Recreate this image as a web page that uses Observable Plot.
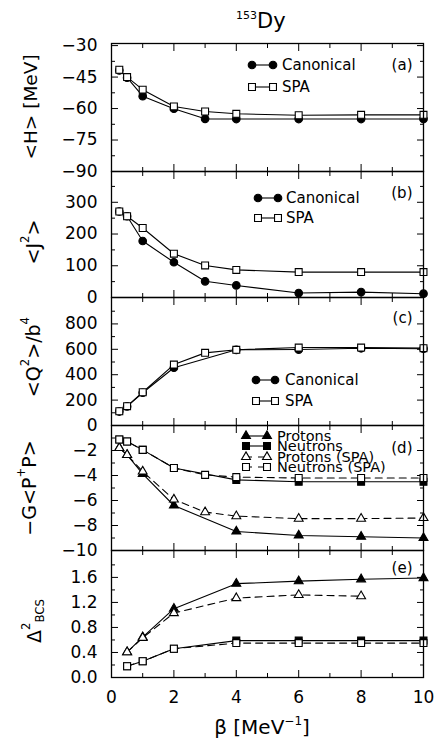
<!DOCTYPE html>
<html>
<head>
<meta charset="utf-8">
<script src="https://cdn.jsdelivr.net/npm/d3@7"></script>
<script src="https://cdn.jsdelivr.net/npm/@observablehq/plot@0.6"></script>
<style>
  body { margin: 0; background: #fff; }
  #chart { position: relative; width: 438px; height: 745px; overflow: hidden; background: #fff; }
  #chart svg.plot, #chart svg { position: absolute; left: 0; }
</style>
</head>
<body>
<div id="chart"></div>
<script>
// ---------------- data ----------------
const betaAll = [0.25, 0.5, 1, 2, 3, 4, 6, 8, 10];

// (a) <H> [MeV]
const energyCanonical = [-41.8, -45.3, -54.1, -60.1, -64.9, -65.0, -65.0, -65.0, -65.0];
const energySPA       = [-41.5, -45.0, -51.0, -59.0, -61.4, -62.5, -63.2, -63.0, -63.0];

// (b) <J^2>
const j2Canonical = [271, 256, 178, 111, 51, 38, 14, 17, 12];
const j2SPA       = [271, 256, 219, 138, 101, 87, 80, 80, 80];

// (c) <Q^2>/b^4
const betaQ2Canonical = [0.25, 0.5, 1, 2, 4, 6, 8, 10];
const q2Canonical     = [110, 150, 258, 455, 596, 598, 608, 605];
const q2SPA           = [112, 152, 262, 480, 572, 596, 614, 614, 609];

// (d) -G<P+P>
const betaPairCanonical   = [0.25, 0.5, 1, 2, 4, 6, 8, 10];
const pairProtons         = [-1.8, -2.35, -3.87, -6.4, -8.48, -8.8, -8.9, -9.0];
const pairNeutrons        = [-1.12, -1.28, -1.95, -3.4, -4.35, -4.5, -4.5, -4.5];
const pairProtonsSPA      = [-1.8, -2.35, -3.68, -5.92, -6.93, -7.25, -7.45, -7.45, -7.4];
const pairNeutronsSPA     = [-1.12, -1.28, -1.95, -3.4, -3.95, -4.13, -4.2, -4.2, -4.2];

// (e) Delta^2_BCS
const betaGap            = [0.5, 1, 2, 4, 6, 8, 10];
const betaGapProtonsSPA  = [0.5, 1, 2, 4, 6, 8];
const gapProtons         = [0.405, 0.645, 1.10, 1.50, 1.54, 1.57, 1.59];
const gapProtonsSPA      = [0.405, 0.635, 1.03, 1.27, 1.32, 1.30];
const gapNeutrons        = [0.18, 0.26, 0.46, 0.59, 0.59, 0.59, 0.59];
const gapNeutronsSPA     = [0.18, 0.26, 0.46, 0.55, 0.55, 0.55, 0.55];

// ticks
const xMajor = [0, 2, 4, 6, 8, 10];
const xMinor = [1, 3, 5, 7, 9];
const xLabels = [0, 2, 4, 6, 8, 10];

const hMajor = [-90, -75, -60, -45, -30], hMinor = [-82.5, -67.5, -52.5, -37.5], hLabels = [-90, -75, -60, -45, -30];
const jMajor = [0, 100, 200, 300], jMinor = [50, 150, 250, 350], jLabels = [0, 100, 200, 300];
const qMajor = [0, 200, 400, 600, 800], qMinor = [100, 300, 500, 700, 900], qLabels = [0, 200, 400, 600, 800];
const gMajor = [-10, -8, -6, -4, -2], gMinor = [-9, -7, -5, -3, -1], gLabels = [-10, -8, -6, -4, -2];
const dMajor = [0, 0.4, 0.8, 1.2, 1.6], dMinor = [0.2, 0.6, 1.0, 1.4, 1.8], dLabels = [0, 0.4, 0.8, 1.2, 1.6];

// --------------- helpers ---------------
const FONT = "'DejaVu Sans', 'Liberation Sans', Arial, sans-serif";
const pts = (xs, ys) => ys.map((v, i) => ({beta: xs[i], value: v}));
const R = {circle: 3.8, square: 3.9, triangle: 3.3};
const line = (d, dash) => Plot.line(d, {x: "beta", y: "value", stroke: "#000", strokeWidth: 1.1, strokeDasharray: dash ? "7,5" : null});
const dots = (d, symbol, filled) => Plot.dot(d, {x: "beta", y: "value", symbol, r: R[symbol], fill: filled ? "#000" : "#fff", stroke: "#000", strokeWidth: 1.1});

const chart = document.getElementById("chart");

function makePanel(p) {
  const mt = 14, mb = p.last ? 60 : 14;
  const blank = () => "";
  const marks = [
    Plot.axisY(p.major, {anchor: "left", tickSize: -7, tickFormat: blank, label: null}),
    Plot.axisY(p.major, {anchor: "right", tickSize: -7, tickFormat: blank, label: null}),
    Plot.axisY(p.minor, {anchor: "left", tickSize: -4, tickFormat: blank, label: null}),
    Plot.axisY(p.minor, {anchor: "right", tickSize: -4, tickFormat: blank, label: null}),
    Plot.axisY(p.labels, {anchor: "left", tickSize: 0, tickPadding: 14, tickFormat: p.fmt, label: null, fontSize: 17}),
    Plot.axisX(xMajor, {anchor: "top", tickSize: -7, tickFormat: blank, label: null}),
    Plot.axisX(xMajor, {anchor: "bottom", tickSize: -7, tickFormat: blank, label: null}),
    Plot.axisX(xMinor, {anchor: "top", tickSize: -4, tickFormat: blank, label: null}),
    Plot.axisX(xMinor, {anchor: "bottom", tickSize: -4, tickFormat: blank, label: null}),
    ...p.marks,
    Plot.frame({stroke: "#000", strokeWidth: 1.3}),
    Plot.text([p.tag], {text: d => d, frameAnchor: "top-right", textAnchor: "end", lineAnchor: "middle", dx: -11, dy: p.tagDy, fontSize: 15, fill: "#000"})
  ];
  if (p.last) {
    marks.push(Plot.axisX(xLabels, {anchor: "bottom", tickSize: 0, tickPadding: 13, tickFormat: d3.format("d"), label: null, fontSize: 17}));
  }
  const svg = Plot.plot({
    width: 438,
    height: p.h + mt + mb,
    marginTop: mt, marginBottom: mb, marginLeft: 111, marginRight: 15,
    style: {background: "transparent", overflow: "visible", fontFamily: FONT, fontSize: "17px", color: "#000"},
    x: {domain: [0, 10]},
    y: {domain: p.domain},
    marks
  });
  svg.style.position = "absolute";
  svg.style.left = "0px";
  svg.style.top = (p.top - mt) + "px";
  svg.style.background = "transparent";
  svg.style.overflow = "visible";
  chart.appendChild(svg);
}

const fInt = d3.format("d");
const f1 = d3.format(".1f");

makePanel({
  top: 43, h: 128, domain: [-90, -29], major: hMajor, minor: hMinor, labels: hLabels, fmt: fInt, tag: "(a)", tagDy: 22,
  marks: [
    line(pts(betaAll, energyCanonical)), line(pts(betaAll, energySPA)),
    dots(pts(betaAll, energyCanonical), "circle", true), dots(pts(betaAll, energySPA), "square", false)
  ]
});
makePanel({
  top: 171, h: 126, domain: [0, 397], major: jMajor, minor: jMinor, labels: jLabels, fmt: fInt, tag: "(b)", tagDy: 22,
  marks: [
    line(pts(betaAll, j2Canonical)), line(pts(betaAll, j2SPA)),
    dots(pts(betaAll, j2Canonical), "circle", true), dots(pts(betaAll, j2SPA), "square", false)
  ]
});
makePanel({
  top: 297, h: 128, domain: [0, 1008], major: qMajor, minor: qMinor, labels: qLabels, fmt: fInt, tag: "(c)", tagDy: 21,
  marks: [
    line(pts(betaQ2Canonical, q2Canonical)), line(pts(betaAll, q2SPA)),
    dots(pts(betaQ2Canonical, q2Canonical), "circle", true), dots(pts(betaAll, q2SPA), "square", false)
  ]
});
makePanel({
  top: 425, h: 125, domain: [-10, 0], major: gMajor, minor: gMinor, labels: gLabels, fmt: fInt, tag: "(d)", tagDy: 23,
  marks: [
    line(pts(betaPairCanonical, pairProtons)), line(pts(betaPairCanonical, pairNeutrons)),
    line(pts(betaAll, pairProtonsSPA), true), line(pts(betaAll, pairNeutronsSPA), true),
    dots(pts(betaPairCanonical, pairProtons), "triangle", true), dots(pts(betaPairCanonical, pairNeutrons), "square", true),
    dots(pts(betaAll, pairProtonsSPA), "triangle", false), dots(pts(betaAll, pairNeutronsSPA), "square", false)
  ]
});
makePanel({
  top: 550, h: 127, domain: [0, 2.03], major: dMajor, minor: dMinor, labels: dLabels, fmt: f1, tag: "(e)", tagDy: 18, last: true,
  marks: [
    line(pts(betaGap, gapProtons)), line(pts(betaGap, gapNeutrons)),
    line(pts(betaGapProtonsSPA, gapProtonsSPA), true), line(pts(betaGap, gapNeutronsSPA), true),
    dots(pts(betaGap, gapProtons), "triangle", true), dots(pts(betaGap, gapNeutrons), "square", true),
    dots(pts(betaGapProtonsSPA, gapProtonsSPA), "triangle", false), dots(pts(betaGap, gapNeutronsSPA), "square", false)
  ]
});

// --------------- overlay: title, axis titles, legends ---------------
const ov = d3.select(chart).append("svg")
  .attr("width", 438).attr("height", 745)
  .style("position", "absolute").style("left", "0px").style("top", "0px")
  .style("overflow", "visible").style("pointer-events", "none")
  .style("font-family", FONT).attr("fill", "#000");

// title
const title = ov.append("text").attr("x", 236).attr("y", 28);
title.append("tspan").attr("font-size", 11).attr("dy", -9).text("153");
title.append("tspan").attr("font-size", 21).attr("dy", 9).text("Dy");

// x-axis title
const xt = ov.append("text").attr("x", 262).attr("y", 734).attr("text-anchor", "middle").attr("font-size", 20);
xt.append("tspan").text("β [MeV");
xt.append("tspan").attr("font-size", 12).attr("dy", -9).text("−1");
xt.append("tspan").attr("dy", 9).text("]");

// y-axis titles (rotated)
function yTitle(cx, cy, parts, size) {
  const t = ov.append("text")
    .attr("transform", `translate(${cx},${cy}) rotate(-90)`)
    .attr("text-anchor", "middle").attr("dominant-baseline", "central").attr("font-size", size);
  let shift = 0;
  for (const [txt, kind] of parts) {
    const want = kind === "sup" ? -8 : kind === "sub" ? 6 : 0;
    const sp = t.append("tspan").attr("dy", want - shift).text(txt);
    if (kind) sp.attr("font-size", size * 0.62);
    shift = want;
  }
}
yTitle(30, 107, [["<H> [MeV]"]], 18.5);
yTitle(33, 242, [["<J"], ["2", "sup"], [">"]], 19);
yTitle(33, 357, [["<Q"], ["2", "sup"], [">/b"], ["4", "sup"]], 19);
yTitle(29, 488, [["−G<P"], ["+", "sup"], ["P>"]], 19);
yTitle(34, 621, [["Δ"], ["2", "sup"], ["BCS", "sub"]], 19);

// legends
const symPath = (s, r) => d3.symbol(s === "circle" ? d3.symbolCircle : s === "square" ? d3.symbolSquare : d3.symbolTriangle, Math.PI * r * r)();
function legendRow(x1, x2, xt, y, label, symbol, filled, dash, fs) {
  ov.append("line").attr("x1", x1).attr("x2", x2).attr("y1", y).attr("y2", y)
    .attr("stroke", "#000").attr("stroke-width", 1.1).attr("stroke-dasharray", dash ? "6,6" : null);
  for (const x of [x1, x2]) {
    ov.append("path").attr("d", symPath(symbol, R[symbol])).attr("transform", `translate(${x},${y})`)
      .attr("fill", filled ? "#000" : "#fff").attr("stroke", "#000").attr("stroke-width", 1.1);
  }
  ov.append("text").attr("x", xt).attr("y", y).attr("dominant-baseline", "central").attr("font-size", fs).text(label);
}
legendRow(252, 273, 282, 65, "Canonical", "circle", true, false, 15);
legendRow(252, 273, 282, 87, "SPA", "square", false, false, 15);
legendRow(258, 278, 286, 198, "Canonical", "circle", true, false, 15);
legendRow(258, 278, 286, 218, "SPA", "square", false, false, 15);
legendRow(256, 275, 285, 380, "Canonical", "circle", true, false, 15);
legendRow(256, 275, 285, 401, "SPA", "square", false, false, 15);
legendRow(246, 267, 277, 436, "Protons", "triangle", true, false, 14.5);
legendRow(246, 267, 277, 446, "Neutrons", "square", true, false, 14.5);
legendRow(246, 267, 277, 457, "Protons (SPA)", "triangle", false, true, 14.5);
legendRow(246, 267, 277, 467, "Neutrons (SPA)", "square", false, true, 14.5);
</script>
</body>
</html>
